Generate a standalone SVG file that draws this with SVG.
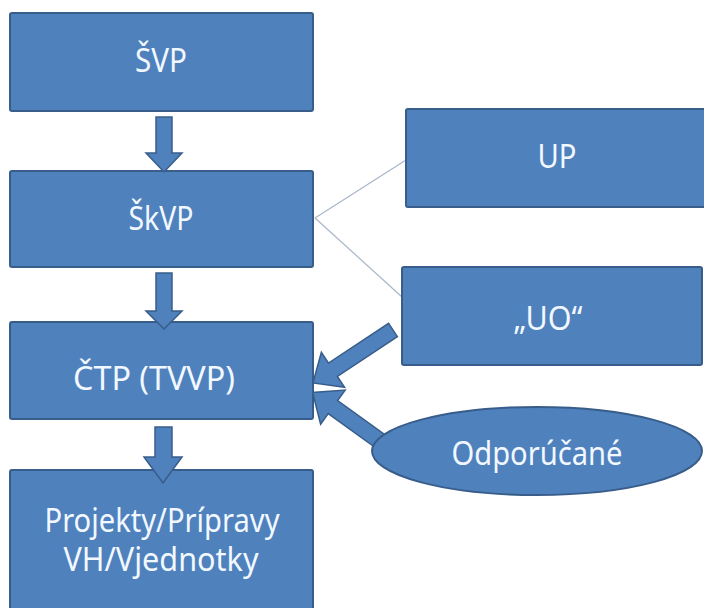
<svg xmlns="http://www.w3.org/2000/svg" width="704" height="608" viewBox="0 0 704 608">
<style>
.box{fill:#4F81BD;stroke:#385D8A;stroke-width:2}
.arr{fill:#4F81BD;stroke:#385D8A;stroke-width:1.5;stroke-linejoin:miter}
.line{stroke:#A8B6C8;stroke-width:1.2;fill:none}
.t{font-family:"Noto Sans","Open Sans","Liberation Sans",sans-serif;font-size:32px;fill:#F2F8FF;text-anchor:middle}
</style>
<rect width="704" height="608" fill="#FFFFFF"/>
<g id="connectors">
<line class="line" x1="315" y1="218" x2="406" y2="160"/>
<line class="line" x1="315" y1="218" x2="402" y2="297"/>
</g>
<g id="svp"><rect class="box" x="10" y="13" width="303" height="98" rx="2"/><text class="t" x="161" y="72" textLength="52" lengthAdjust="spacingAndGlyphs">ŠVP</text></g>
<g id="skvp"><rect class="box" x="10" y="171" width="303" height="96" rx="2"/><text class="t" x="161" y="230" textLength="65" lengthAdjust="spacingAndGlyphs">ŠkVP</text></g>
<g id="ctp"><rect class="box" x="10" y="322" width="303" height="97" rx="2"/><text class="t" x="154" y="390" textLength="162" lengthAdjust="spacingAndGlyphs">ČTP (TVVP)</text></g>
<g id="projekty"><rect class="box" x="10" y="470" width="303" height="150" rx="2"/><text class="t" x="162" y="532" textLength="235" lengthAdjust="spacingAndGlyphs">Projekty/Prípravy</text><text class="t" x="161" y="571" textLength="195" lengthAdjust="spacingAndGlyphs">VH/Vjednotky</text></g>
<g id="up"><rect class="box" x="406" y="109" width="302" height="98" rx="2"/><text class="t" x="557" y="168" textLength="39" lengthAdjust="spacingAndGlyphs">UP</text></g>
<g id="uo"><rect class="box" x="402" y="267" width="300" height="98" rx="2"/><text class="t" x="548" y="330" textLength="69" lengthAdjust="spacingAndGlyphs">„UO“</text></g>
<g id="block-arrows">
<polygon class="arr" points="156,117 172,117 172,153 182,153 164,172 146,153 156,153"/>
<polygon class="arr" points="156,273 172,273 172,311 182,311 164,329 146,311 156,311"/>
<polygon class="arr" points="155,427 172,427 172,457 182,457 163,483 144,457 155,457"/>
<polygon class="arr" transform="translate(393,330) rotate(146.5)" points="0,-8 72,-8 72,-21 96,0 72,21 72,8 0,8"/>
<polygon class="arr" transform="translate(384,444) rotate(215.8)" points="0,-8 63,-8 63,-21 88,0 63,21 63,8 0,8"/>
</g>
<g id="odporucane"><ellipse class="box" cx="537" cy="451" rx="165" ry="44"/><text class="t" x="537" y="465" textLength="171" lengthAdjust="spacingAndGlyphs">Odporúčané</text></g>
</svg>
